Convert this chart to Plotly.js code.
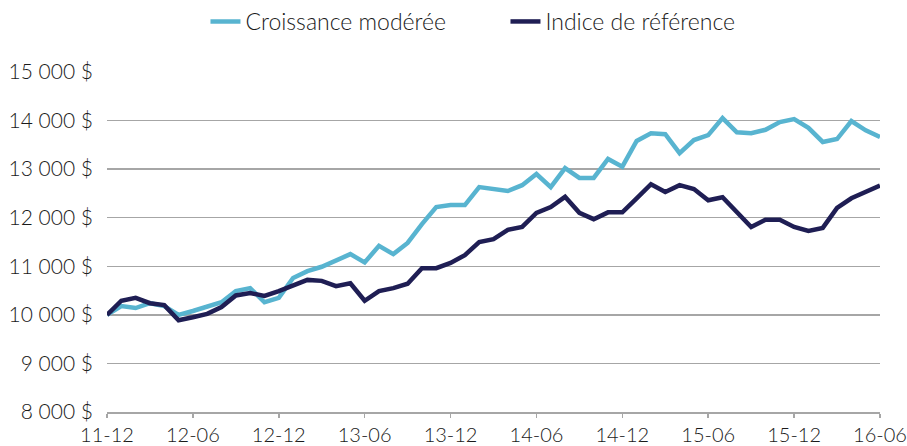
<!DOCTYPE html>
<html>
<head>
<meta charset="utf-8">
<script src="https://cdn.plot.ly/plotly-3.0.1.min.js"></script>
<style>html,body{margin:0;padding:0;background:#fff;}#chart{width:907px;height:446px;}</style>
</head>
<body>
<div id="chart"></div>
<script>
// Monthly categories from 2011-12 to 2016-06
const startYear = 11, startMonth = 12, nMonths = 55;
const months = [];
for (let i = 0; i < nMonths; i++) {
  const m = (startMonth - 1 + i) % 12 + 1;
  const y = startYear + Math.floor((startMonth - 1 + i) / 12);
  months.push(String(y).padStart(2, '0') + '-' + String(m).padStart(2, '0'));
}
const tickLabels = ["11-12","12-06","12-12","13-06","13-12","14-06","14-12","15-06","15-12","16-06"];

const croissance = [
  10000, 10180, 10140, 10240, 10180, 10000, 10080, 10160, 10260, 10490,
  10550, 10260, 10350, 10760, 10900, 10990, 11110, 11250, 11080, 11420,
  11250, 11480, 11870, 12220, 12260, 12260, 12630, 12590, 12550, 12670,
  12900, 12630, 13020, 12820, 12820, 13210, 13050, 13580, 13740, 13720,
  13330, 13600, 13700, 14050, 13760, 13740, 13810, 13970, 14030, 13850,
  13560, 13620, 13990, 13800, 13660
];
const indice = [
  10000, 10290, 10350, 10240, 10200, 9890, 9950, 10020, 10160, 10400,
  10450, 10390, 10490, 10610, 10720, 10700, 10590, 10650, 10290, 10490,
  10550, 10640, 10960, 10960, 11070, 11230, 11500, 11560, 11750, 11810,
  12100, 12220, 12430, 12100, 11970, 12110, 12110, 12400, 12690, 12530,
  12670, 12590, 12360, 12420, 12100, 11810, 11960, 11960, 11810, 11730,
  11790, 12200, 12400, 12520, 12660
];
const yTicks = [8000, 9000, 10000, 11000, 12000, 13000, 14000, 15000];
const yTickText = ["8 000 $", "9 000 $", "10 000 $", "11 000 $", "12 000 $", "13 000 $", "14 000 $", "15 000 $"];

const family = 'Lato, "Open Sans", sans-serif';
const legendFont = {family: family, size: 23, color: '#1a1a1a', weight: 300};
const yTickFont = {family: family, size: 21, color: '#1a1a1a', weight: 300};
const xTickFont = {family: family, size: 20, color: '#1a1a1a', weight: 300};

const traces = [
  {x: months, y: croissance, type: 'scatter', mode: 'lines', name: 'Croissance modérée',
   line: {color: '#58b4d0', width: 4.5}},
  {x: months, y: indice, type: 'scatter', mode: 'lines', name: 'Indice de référence',
   line: {color: '#1f1e54', width: 4.5}}
];

const layout = {
  width: 907, height: 446,
  margin: {l: 107, r: 27, t: 72, b: 34, autoexpand: false},
  paper_bgcolor: '#fff', plot_bgcolor: '#fff',
  font: yTickFont,
  showlegend: true,
  legend: {orientation: 'h', x: 0.5573, xref: 'container', xanchor: 'center',
           y: 1, yref: 'container', yanchor: 'top',
           font: legendFont, tracegroupgap: 0, entrywidth: 255},
  xaxis: {type: 'category', range: [0, nMonths - 1], tickvals: tickLabels, ticktext: tickLabels,
          showgrid: false, showline: true, linecolor: '#a6a6a6', linewidth: 1.5,
          ticks: 'outside', ticklen: 4, tickcolor: '#a6a6a6', tickwidth: 1.5,
          tickfont: xTickFont, zeroline: false, fixedrange: true},
  yaxis: {range: [8000, 15000], tickvals: yTicks, ticktext: yTickText,
          showgrid: true, gridcolor: '#a6a6a6', gridwidth: 1.5, zeroline: false,
          showline: false, ticks: '', tickfont: yTickFont, ticklabelstandoff: 13, fixedrange: true}
};

Plotly.newPlot('chart', traces, layout, {displayModeBar: false, staticPlot: true});
</script>
</body>
</html>
